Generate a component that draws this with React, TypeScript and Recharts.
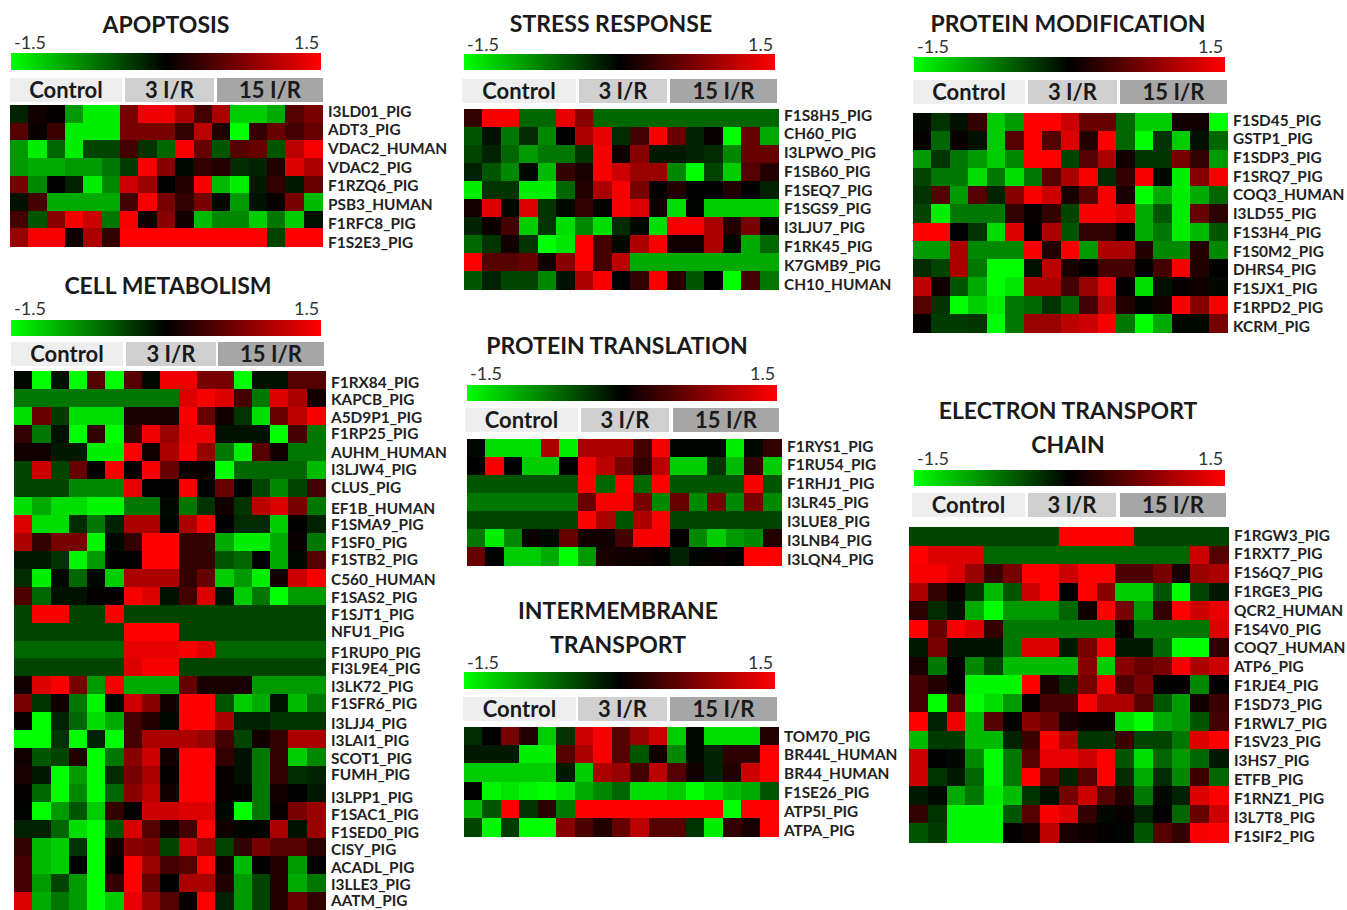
import React from 'react';
import { ScatterChart, Scatter, XAxis, YAxis } from 'recharts';

const apoptosisLabels = ['I3LD01_PIG', 'ADT3_PIG', 'VDAC2_HUMAN', 'VDAC2_PIG', 'F1RZQ6_PIG', 'PSB3_HUMAN', 'F1RFC8_PIG', 'F1S2E3_PIG'];
const apoptosisValues = [
  [-.2, .1, .03, -.9, -1.4, -1.4, .7, 1.4, 1.4, 1, .4, 1, -1.2, -1.2, -1, .5, .7],
  [.5, .05, .35, -1.4, -1.4, -1.4, .7, .7, .7, .3, 1.1, .2, -1.5, .3, .6, .4, .6],
  [-.9, -1.4, -.6, -1.4, -.4, -.4, .4, -.3, -.6, 1.45, .6, -.5, .5, .6, -.5, 1.1, 1.45],
  [-.9, -1, -1, -.9, -.9, -.7, -.35, 1.45, .8, -.05, .3, .2, -.25, -.2, .2, 1.3, 1],
  [.7, -.8, 0, -.2, -1.4, -.8, 1.2, .9, 0, .2, 1.45, -1.1, -1.4, -.15, .3, -.15, .6],
  [-.1, .4, -1, -1, -1, -1, .4, 1.45, .7, .3, .7, -.05, -.9, -.1, .05, .7, -1.1],
  [.4, -.5, .8, 1.45, 1.2, -.7, 1.45, .1, .8, .1, -1.1, -.8, -.8, -1.2, -.7, -1.2, -.1],
  [.9, 1.45, 1.45, .1, 1, .3, 1.5, 1.5, 1.5, 1.5, 1.5, 1.5, 1.5, 1.5, -.4, 1.5, 1.5],
];

const metabolismLabels = ['F1RX84_PIG', 'KAPCB_PIG', 'A5D9P1_PIG', 'F1RP25_PIG', 'AUHM_HUMAN', 'I3LJW4_PIG', 'CLUS_PIG', 'EF1B_HUMAN', 'F1SMA9_PIG', 'F1SF0_PIG', 'F1STB2_PIG', 'C560_HUMAN', 'F1SAS2_PIG', 'F1SJT1_PIG', 'NFU1_PIG', 'F1RUP0_PIG', 'FI3L9E4_PIG', 'I3LK72_PIG', 'F1SFR6_PIG', 'I3LJJ4_PIG', 'I3LAI1_PIG', 'SCOT1_PIG', 'FUMH_PIG', 'I3LPP1_PIG', 'F1SAC1_PIG', 'F1SED0_PIG', 'CISY_PIG', 'ACADL_PIG', 'I3LLE3_PIG', 'AATM_PIG'];
const metabolismValues = [
  [-.05, -1.5, -.1, -1.5, .5, -1.5, .5, -.05, 1.4, 1.4, .7, .7, -1.5, -.1, -.1, .5, .5],
  [-.7, -.7, -.7, -.7, -.7, -.7, -.7, -.7, -.7, 1.3, 1.45, 1.3, .4, -.7, 1.3, 1, .1],
  [-1.3, .6, -.35, -1.3, -1.3, -1.3, .15, .15, .15, 1.45, .6, .1, -.3, -1.3, .6, 1.1, 1.45],
  [.3, -.7, -.1, -1.5, .3, -1.5, .3, 1.4, .9, 1.4, 1.4, -.1, -.1, -.1, -1.5, .4, -.7],
  [.1, .1, -.15, -.15, -1.4, -1.4, 1.5, .1, 1, 1.45, .9, -.7, -1.4, .5, .1, -.7, -.7],
  [-.4, 1.2, -.4, .6, .02, 1.45, .02, 1.45, .6, .05, .05, -1.5, -.6, -.6, -.6, -.6, -1.1],
  [-.4, -.4, -.4, -.8, -.8, -.8, 1.35, 0, 0, 1.45, 0, .6, 0, -.4, -.8, -.4, .4],
  [-1.3, -1, -1.3, -1.3, -1.45, -1.45, -.7, -.7, -.05, -.7, -.3, .1, -.3, 1.1, 1.3, .7, -.7],
  [1.3, -1.3, -1.3, -.25, -.7, -.2, 1, 1, -.03, 1, 1.45, 0, -.25, -.25, -1.2, 0, -.2],
  [1, .3, .7, .7, -1.45, -.05, .3, 1.5, 1.5, .3, .3, -1, -1.4, -1.4, -1, .05, -.7],
  [-.15, -.15, -.3, -1.45, -.9, 0, 0, 1.5, 1.5, .3, .3, -.5, -.6, 0, -1, -.05, .5],
  [-.25, -1.4, -.05, -.6, -.05, -1.2, 1, 1, 1, .3, .6, -1.2, -.9, -1.4, .1, 1.2, 1.45],
  [.45, -.6, -.1, -.1, .02, .02, 1.45, 1.3, -.1, .4, 1.3, -.1, -1.2, -.7, -1.5, -.9, -.9],
  [-.4, 1.45, 1.45, -.4, -.4, 1.45, -.4, -.4, -.4, -.4, -.4, -.4, -.4, -.4, -.4, -.4, -.4],
  [-.4, -.4, -.4, -.4, -.4, -.4, 1.5, 1.5, 1.5, -.4, -.4, -.4, -.4, -.4, -.4, -.4, -.4],
  [-.6, -.6, -.6, -.6, -.6, -.6, 1.35, 1.35, 1.35, 1.45, 1.3, -.6, -.6, -.6, -.6, -.6, -.6],
  [-.4, -.4, -.4, -.4, -.4, -.4, 1.3, 1.45, 1.45, -.4, -.4, -.4, -.4, -.4, -.4, -.4, -.4],
  [.1, 1.3, 1.45, .7, -.9, 1.45, -1, -1, -1, .6, .15, .15, .15, -.9, -.9, -.9, -.9],
  [.7, -.3, .1, -.7, -1.45, -.05, 1.2, .8, .1, 1.5, 1.5, -.5, -1.2, -1, -.1, -1.1, -.7],
  [.05, -1.5, -.2, -.6, -1.3, -1, .4, .2, -.05, 1.5, 1.5, 1, -.2, -.2, -.3, -.3, -.3],
  [-1.5, -1.5, -.3, -1.5, -.2, -1.5, .4, 1, 1, 1, .9, .4, -.4, .1, .3, 1, 1],
  [.1, -.5, -.4, .2, -1.5, -.7, .8, 1.2, .1, 1.5, 1.5, .3, -.1, -.7, .3, -1.2, -.8],
  [.15, -.15, -1.5, -.9, -1.5, -.25, .7, 1, .02, 1.5, 1.5, .05, -.1, -.7, .3, -.25, -.2],
  [.02, -.6, -1.5, -.8, -1.5, -.6, .8, 1.1, .1, 1.5, 1.5, .05, -.02, -.7, .1, 0, -.15],
  [-.02, -1.5, -.9, -.5, -1.2, .3, -.02, 1.2, 1.2, 1.3, 1.3, -.05, -1.5, -.7, .05, .7, .9],
  [-.2, -.2, -.6, -1.3, -1.5, -.5, 1.25, .5, .1, .4, 1.5, .1, -.03, -.03, 1, -.1, .9],
  [.3, -1.1, -1.2, -.3, -1.5, .1, .8, .7, -.4, 1.2, .9, -.4, .3, .7, .5, .5, .25],
  [.4, -1.1, -1.2, 0, -1.5, 0, 1.5, .9, .4, .5, 1.5, .1, -1.1, 0, .2, -.9, 0],
  [.4, -.9, -.4, -.9, -1.5, .3, 1.5, .6, 0, 1, 1, .2, -.9, -.4, .2, -1, -.7],
  [1.3, -1, -.7, -.9, -1.5, -1.2, 1.35, .9, .5, .05, 1.5, -.2, -.9, -.4, .2, .6, .3],
];

const stressLabels = ['F1S8H5_PIG', 'CH60_PIG', 'I3LPWO_PIG', 'F1SB60_PIG', 'F1SEQ7_PIG', 'F1SGS9_PIG', 'I3LJU7_PIG', 'F1RK45_PIG', 'K7GMB9_PIG', 'CH10_HUMAN'];
const stressValues = [
  [.3, 1.45, 1.45, -.6, -.6, 1.35, .8, -.6, -.6, -.6, -.6, -.6, -.6, -.6, -.6, -.6, -.6],
  [-.5, -.1, -.7, -.25, -.8, 0, 1, 1.35, -.25, .4, 1.45, .6, -.2, .05, -1.5, .6, -1],
  [-.4, -.2, -.6, -.9, -.7, -.7, -.3, 1.45, .1, .8, -.15, -.15, -.2, -.25, -.8, .6, .6],
  [-.2, -.5, -.8, -.05, -1.1, .3, .15, 1.45, 1.2, .9, .9, -.8, -1.5, -.4, -1.2, .5, .2],
  [-1.4, -.3, -.3, -1.4, -1.4, -.6, .2, 1, 1.45, .7, 0, .2, 0, 0, .2, 0, -.2],
  [.12, 1.3, -.05, 1.3, -.3, -.05, .3, -.03, 1.45, 1.3, .1, -1.3, -.03, -1.2, -1.2, -1.2, -1.2],
  [-.2, .05, .4, -1.2, -.3, -1.3, -.8, -1.3, -.25, -.05, -1.3, 1.45, 1.45, 1, .2, .7, .05],
  [-.6, -.3, .1, -.3, -1.5, -1.35, 1.5, .4, -.05, 1, 1.45, .1, .1, 1, -.05, -1, -.6],
  [1.5, .5, .5, .6, .1, .8, 1.5, .4, 1.1, -1, -1, -1, -1, -1, -1, -1, -1],
  [-.5, -.2, -.4, -.4, -.8, -.1, 1, 1.45, 0, .3, 1.45, .2, -.5, 0, -1.5, .4, -.7],
];

const translationLabels = ['F1RYS1_PIG', 'F1RU54_PIG', 'F1RHJ1_PIG', 'I3LR45_PIG', 'I3LUE8_PIG', 'I3LNB4_PIG', 'I3LQN4_PIG'];
const translationValues = [
  [-.05, -1.3, -1.3, -1.3, 1, -1.4, 1, 1, 1, .4, 1.45, -.03, -.03, -.03, -1.4, -.05, .3],
  [0, 1.45, 0, -1.2, -1.2, 0, 1.45, 1.1, .7, .3, 1.1, -1.2, -1.2, -.3, -1.1, .3, -1.2],
  [-.5, -.5, -.5, -.5, -.5, -.5, 1.5, -.6, 1.5, -.6, 1.5, -.5, -.5, -.5, -.5, 1.45, -.5],
  [-.7, -.7, -.7, -.7, -.7, -.7, .6, 1.45, 1.45, .7, -.8, .6, -.8, .7, -.8, .7, -.8],
  [-.4, -.4, -.4, -.4, -.4, -.4, 1.5, 1, -.5, 1, 1.5, -.4, -.4, -.4, -.4, -.4, -.4],
  [-.7, -1.4, -.8, .05, -.05, .6, .1, .1, .4, 1.45, 1.45, .03, -.8, -1.2, -.9, -.8, .2],
  [.6, -.02, -1.2, -1.2, -1, -1.5, -.9, .15, .1, .08, .02, -.2, -.03, .05, 0, 1.5, 1.5],
];

const transportLabels = ['TOM70_PIG', 'BR44L_HUMAN', 'BR44_HUMAN', 'F1SE26_PIG', 'ATP5I_PIG', 'ATPA_PIG'];
const transportValues = [
  [-.25, 0, .7, .2, -1.2, -.3, 1.2, 1.45, .5, .9, 1.2, -1.2, -.05, -1.3, -1.3, -1.3, .2],
  [-.15, -.15, -.15, -1.4, -1.4, .5, 1, 1.45, .5, -.5, .1, -.8, -.05, -.2, .25, .25, 1.5],
  [-1.2, -1.2, -1.2, -1.2, -1.2, -.15, -1.2, 1, .9, .4, 1.1, .5, .1, -.2, .2, 1.2, 1.5],
  [0, -1.45, -1.35, -1.45, -1.5, -1.35, -1, -.8, -.6, -1.3, -1.3, -1.2, -1.5, -1.3, -1.1, -1, -.5],
  [-1.1, -.5, 1.5, -.3, .25, -.7, 1.5, 1.5, 1.5, 1.5, 1.5, 1.5, 1.5, 1.5, -1.5, 1.5, 1.5],
  [-.4, -1.45, -.35, -1.5, -1.5, .8, .45, .2, .6, 1.1, .5, .5, -.3, -1.4, .3, .15, 1.5],
];

const modificationLabels = ['F1SD45_PIG', 'GSTP1_PIG', 'F1SDP3_PIG', 'F1SRQ7_PIG', 'COQ3_HUMAN', 'I3LD55_PIG', 'F1S3H4_PIG', 'F1S0M2_PIG', 'DHRS4_PIG', 'F1SJX1_PIG', 'F1RPD2_PIG', 'KCRM_PIG'];
const modificationValues = [
  [-.05, -.3, -.1, .3, -1.2, -.9, 1.5, 1.5, 1.2, .6, .6, -.6, -1.2, -1.2, .1, .1, -1.5],
  [.02, -.6, .05, -.1, -1.2, .5, 1.5, .5, 1.3, .2, 1.5, -.6, -1.5, -.3, -1.2, -.1, -.6],
  [-.9, -.3, -.7, -.9, -1.2, -.8, 1.5, 1.5, -.4, .5, 1, .1, -.3, -.3, .7, .3, -.9],
  [-.4, -.7, -.7, -1.3, -.7, -1.3, -.7, .5, 1, 1.45, -.25, .3, 1.45, -.05, -1.4, .8, 1.45],
  [-.3, .5, -.9, .5, -.2, .8, 1.45, 1.2, .15, .5, 1.45, .15, -1.5, -1, -1.4, -1, -.6],
  [-.4, -1.4, -.7, -.7, -.7, .3, .05, .3, -.4, 1.45, 1.45, 1.3, -1, -.5, -1.4, .6, .25],
  [1.5, 1.5, 0, -.3, -1.3, 1.3, 0, 1, -.5, .3, .3, 0, -1, -.7, -1.4, -1.1, -.5],
  [-.9, -.9, 1, -.8, -.8, -.8, 1.45, .2, 1.45, -.9, 1, 1, .2, -.8, -.8, .2, -.8],
  [-.25, -.4, 1, -.7, -1.5, -1.5, -.1, 1.1, .15, 0, .4, .4, .02, .4, 1.45, .2, 0],
  [1.1, .1, -.5, -1, -1.5, -1.35, 1, 1, .4, .9, 1.35, .03, -1.3, -.1, .05, .1, -.05],
  [.5, -.3, -1.5, -1.2, -1.4, -.7, -.6, -.3, -.6, .4, 1.1, .2, -.03, .1, 1.45, .8, 1.45],
  [.03, -.35, -.35, -.3, -1.5, -.7, .9, .9, 1.1, 1.2, 1.45, -.7, -1.5, -1, -.05, -.05, .7],
];

const electronLabels = ['F1RGW3_PIG', 'F1RXT7_PIG', 'F1S6Q7_PIG', 'F1RGE3_PIG', 'QCR2_HUMAN', 'F1S4V0_PIG', 'COQ7_HUMAN', 'ATP6_PIG', 'F1RJE4_PIG', 'F1SD73_PIG', 'F1RWL7_PIG', 'F1SV23_PIG', 'I3HS7_PIG', 'ETFB_PIG', 'F1RNZ1_PIG', 'I3L7T8_PIG', 'F1SIF2_PIG'];
const electronValues = [
  [-.4, -.4, -.4, -.4, -.4, -.4, -.4, -.4, 1.5, 1.5, 1.5, 1.5, -.4, -.4, -.4, -.4, -.4],
  [1.5, 1.3, 1.3, 1.3, -.6, -.6, -.6, -.6, -.6, -.6, -.6, -.6, -.6, -.6, -.6, 1.2, .5],
  [1.45, 1.45, 1.3, .9, .35, .7, 1.5, 1.5, 1.2, 1.5, 1.5, .45, .45, .7, .15, .9, 1],
  [1, .3, .05, -.3, -1.1, -.5, 1.2, 1.5, 0, 1.5, .8, -1.2, -1.2, -.5, -1.5, -.4, -.15],
  [.25, -.25, -.1, -1, -1.5, -.9, -.9, -.9, -.6, .1, 1.5, .7, -.9, .3, 1.5, 1.2, 1.35],
  [1.5, .6, 1.45, 1.3, .3, -.7, -.7, -.7, -.7, -.7, -.7, .05, -.7, -.7, -.7, -.7, 1.3],
  [-.15, .7, -.1, -.1, -.1, -.7, 1.3, 1.3, -.15, .7, 1.45, -.15, -.15, -.6, -1.5, -1.5, .25],
  [.15, -.7, 0, -.8, -.4, -1.1, -1.1, -1.1, -1.1, .8, -1.2, .8, .6, .7, 1.45, 1, 1.2],
  [.4, .2, 0, -1.45, -1.45, -1.45, 1.5, .15, -.25, .7, 1.45, .45, .7, 0, 0, -.8, 0],
  [.4, -1.5, .5, -1.5, -1.3, -.9, .05, .4, .4, 1.45, 1, 1, .5, -.5, -.9, .1, .35],
  [1.5, -.2, 1.4, -1.1, .5, -.02, .8, .6, .15, .05, .05, -1.3, -1.5, -1, -.9, -.5, .4],
  [-1.1, -.35, -.35, -1.1, -1.1, -.2, .35, 1.45, 1, -.3, -.3, .35, -.4, -.4, -.7, 1.3, 1.5],
  [1.2, 0, -.05, -.8, -1.5, -.7, .5, 1.35, 1.35, 1.2, 1.5, -.5, -1.3, -.6, -.9, -.6, -.15],
  [1.2, -.3, -.15, -.6, -1.5, -.7, 1.5, .6, -.2, .5, 1.5, -.25, -1, -.25, -.8, .35, -.6],
  [-.15, -.05, -1, -.7, -1.4, -1.1, -.3, -.1, .7, 1.2, .5, .2, -.7, -.05, -.2, 1.3, 1.5],
  [.3, -.3, -1.45, -1.45, -1.45, -.5, .5, 1.45, 1.3, .3, -.05, .05, -.2, 0, -.6, .6, 1.2],
  [-.5, -.35, -1.45, -1.45, -1.45, .02, .1, 1.1, .15, .08, .01, -.03, -.5, .5, .3, 1.45, 1.5],
];

const groups = ['Control', '3 I/R', '15 I/R'];
const groupColors = ['#eeeeee', '#d0d0d0', '#a6a6a6'];

const FONT = 'Lato, sans-serif';
const COLUMNS = 17;
const LABEL_W = 135;
const PAD = 12; // room above and below the rows so the row labels are not clipped

// the labels in the figure were placed by hand, they do not sit exactly on their rows
const metabolismLabelY = [382, 399, 417, 433, 452, 469, 487, 508, 524, 542, 559, 579, 597, 614, 631, 652, 668, 686, 703, 723, 740, 758, 774, 797, 814, 832, 849, 867, 884, 900];

const cellColor = (v: number) => {
  const level = Math.round((Math.min(Math.abs(v), 1.5) / 1.5) * 255);
  return v < 0 ? `rgb(0,${level},0)` : `rgb(${level},0,0)`;
};

interface Box { x: number; w: number }

interface PanelProps {
  title: string[];
  titleX: number;
  titleY: number;
  legendY: number;
  bar: { x: number; y: number; w: number; h: number };
  stripY: number;
  strips: Box[];
  heat: { x: number; y: number; w: number; h: number };
  labelFirst?: number;
  labelLast?: number;
  labelYs?: number[];
  labels: string[];
  values: number[][];
}

const Panel: React.FC<PanelProps> = ({ title, titleX, titleY, legendY, bar, stripY, strips, heat, labelFirst, labelLast, labelYs, labels, values }) => {
  const data = values.flatMap((row, r) => row.map((value, c) => ({ col: c + 0.5, row: r + 0.5, value })));
  const cellW = heat.w / COLUMNS;
  const cellH = heat.h / labels.length;
  const chartTop = heat.y - PAD;

  const Cell = (props: any) => (
    <rect
      x={props.cx - cellW / 2}
      y={props.cy - cellH / 2}
      width={cellW + 0.5}
      height={cellH + 0.5}
      shapeRendering="crispEdges"
      fill={cellColor(props.payload.value)}
    />
  );

  const RowLabel = (props: any) => {
    const i = Math.floor(props.payload.value);
    const y = labelYs
      ? labelYs[i] - chartTop
      : (labelFirst as number) - chartTop + (i * ((labelLast as number) - (labelFirst as number))) / (labels.length - 1);
    return (
      <text x={props.x} y={y} dy="0.36em" textAnchor="start" fontFamily={FONT} fontWeight={700} fontSize={15.4} fill="#222">
        {labels[i]}
      </text>
    );
  };

  return (
    <>
      {title.map((line, i) => (
        <div
          key={line}
          style={{ position: 'absolute', left: titleX - 200, width: 400, top: titleY + i * 33.5 - 16, lineHeight: '32px', textAlign: 'center', fontFamily: FONT, fontWeight: 700, fontSize: 23, color: '#1a1a1a' }}
        >
          {line}
        </div>
      ))}
      <div style={{ position: 'absolute', left: bar.x + 3, top: legendY - 10, lineHeight: '20px', fontFamily: FONT, fontSize: 18, color: '#333' }}>-1.5</div>
      <div style={{ position: 'absolute', left: bar.x + bar.w - 27, top: legendY - 10, lineHeight: '20px', fontFamily: FONT, fontSize: 18, color: '#333' }}>1.5</div>
      <div style={{ position: 'absolute', left: bar.x, top: bar.y, width: bar.w, height: bar.h, background: 'linear-gradient(to right, #00ff00, #000000 50%, #ff0000)' }} />
      {groups.map((g, i) => (
        <div
          key={g}
          style={{ position: 'absolute', left: strips[i].x, width: strips[i].w, top: stripY, height: 24, lineHeight: '23px', background: groupColors[i], textAlign: 'center', fontFamily: FONT, fontWeight: 700, fontSize: 22, color: '#1a1a1a' }}
        >
          {g}
        </div>
      ))}
      <div style={{ position: 'absolute', left: heat.x, top: chartTop }}>
        <ScatterChart width={heat.w + LABEL_W} height={heat.h + 2 * PAD} margin={{ top: PAD, right: 0, bottom: PAD, left: 0 }}>
          <XAxis type="number" dataKey="col" domain={[0, COLUMNS]} hide />
          <YAxis
            type="number"
            dataKey="row"
            domain={[0, labels.length]}
            reversed
            orientation="right"
            width={LABEL_W}
            ticks={labels.map((_, i) => i + 0.5)}
            interval={0}
            axisLine={false}
            tickLine={false}
            tickSize={6}
            tickMargin={0}
            tick={RowLabel}
          />
          <Scatter data={data} isAnimationActive={false} shape={Cell} />
        </ScatterChart>
      </div>
    </>
  );
};

const App: React.FC = () => (
  <div style={{ position: 'absolute', left: 0, top: 0, width: 1347, height: 910, overflow: 'hidden', background: '#fff' }}>
    <Panel
      title={['APOPTOSIS']} titleX={166} titleY={24} legendY={42}
      bar={{ x: 11, y: 53, w: 310, h: 17 }}
      stripY={78} strips={[{ x: 10, w: 112 }, { x: 125, w: 89 }, { x: 217, w: 106 }]}
      heat={{ x: 10, y: 105, w: 312, h: 141 }}
      labelFirst={111} labelLast={242}
      labels={apoptosisLabels} values={apoptosisValues}
    />
    <Panel
      title={['CELL METABOLISM']} titleX={168} titleY={285} legendY={308}
      bar={{ x: 11, y: 320, w: 310, h: 16 }}
      stripY={342} strips={[{ x: 11, w: 112 }, { x: 126, w: 90 }, { x: 218, w: 106 }]}
      heat={{ x: 14, y: 371, w: 311, h: 539 }}
      labelYs={metabolismLabelY}
      labels={metabolismLabels} values={metabolismValues}
    />
    <Panel
      title={['STRESS RESPONSE']} titleX={611} titleY={23} legendY={44}
      bar={{ x: 464, y: 54, w: 311, h: 16 }}
      stripY={79} strips={[{ x: 462, w: 114 }, { x: 579, w: 88 }, { x: 670, w: 107 }]}
      heat={{ x: 464, y: 109, w: 314, h: 180 }}
      labelFirst={115} labelLast={284}
      labels={stressLabels} values={stressValues}
    />
    <Panel
      title={['PROTEIN TRANSLATION']} titleX={617} titleY={345} legendY={373}
      bar={{ x: 467, y: 385, w: 310, h: 16 }}
      stripY={408} strips={[{ x: 465, w: 113 }, { x: 581, w: 88 }, { x: 673, w: 106 }]}
      heat={{ x: 467, y: 439, w: 314, h: 126 }}
      labelFirst={446} labelLast={559}
      labels={translationLabels} values={translationValues}
    />
    <Panel
      title={['INTERMEMBRANE', 'TRANSPORT']} titleX={618} titleY={610} legendY={662}
      bar={{ x: 464, y: 672, w: 311, h: 17 }}
      stripY={697} strips={[{ x: 463, w: 113 }, { x: 578, w: 89 }, { x: 670, w: 107 }]}
      heat={{ x: 464, y: 727, w: 314, h: 109 }}
      labelFirst={736} labelLast={830}
      labels={transportLabels} values={transportValues}
    />
    <Panel
      title={['PROTEIN MODIFICATION']} titleX={1068} titleY={23} legendY={46}
      bar={{ x: 914, y: 57, w: 311, h: 15 }}
      stripY={80} strips={[{ x: 913, w: 112 }, { x: 1028, w: 89 }, { x: 1120, w: 107 }]}
      heat={{ x: 913, y: 113, w: 314, h: 219 }}
      labelFirst={120} labelLast={326}
      labels={modificationLabels} values={modificationValues}
    />
    <Panel
      title={['ELECTRON TRANSPORT', 'CHAIN']} titleX={1068} titleY={410} legendY={458}
      bar={{ x: 914, y: 470, w: 311, h: 16 }}
      stripY={493} strips={[{ x: 912, w: 113 }, { x: 1028, w: 88 }, { x: 1120, w: 106 }]}
      heat={{ x: 909, y: 527, w: 319, h: 315 }}
      labelFirst={535} labelLast={836}
      labels={electronLabels} values={electronValues}
    />
  </div>
);

export default App;
